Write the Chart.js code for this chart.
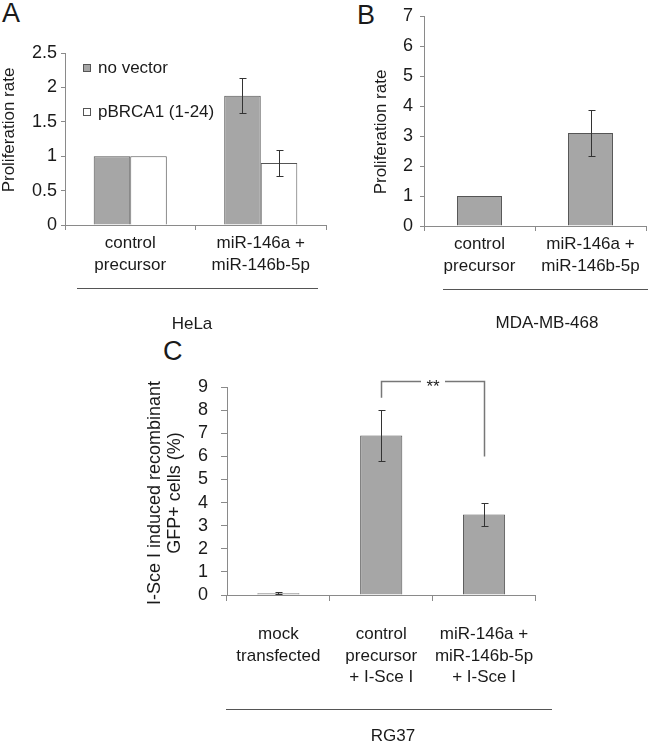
<!DOCTYPE html>
<html>
<head>
<meta charset="utf-8">
<script src="https://cdn.jsdelivr.net/npm/chart.js@4.4.1/dist/chart.umd.min.js"></script>
<style>
	body { margin: 0; background: #fff; width: 649px; height: 741px; position: relative; overflow: hidden;
		font-family: "Liberation Sans", Arial, sans-serif; color: #1a1a1a; }
	.box { position: absolute; }
	.letter { position: absolute; font-size: 27px; line-height: 1; }
	.grp { position: absolute; font-size: 17px; line-height: 1; transform: translate(-50%, -50%); white-space: nowrap; }
	.rule { position: absolute; height: 0; border-top: 1px solid #555; }
</style>
</head>
<body>
<div class="letter" style="left:2px;top:0px">A</div>
<div class="letter" style="left:357px;top:2px">B</div>
<div class="letter" style="left:163px;top:338px">C</div>

<div class="box" style="left:0;top:0;width:330px;height:300px"><canvas id="chart-a"></canvas></div>
<div class="box" style="left:330px;top:0;width:319px;height:300px"><canvas id="chart-b"></canvas></div>
<div class="box" style="left:140px;top:330px;width:420px;height:380px"><canvas id="chart-c"></canvas></div>

<div class="rule" style="left:77px;top:288px;width:241px"></div>
<div class="grp" style="left:192px;top:323px">HeLa</div>
<div class="rule" style="left:443px;top:289px;width:205px"></div>
<div class="grp" style="left:547px;top:322px">MDA-MB-468</div>
<div class="rule" style="left:226px;top:709px;width:326px"></div>
<div class="grp" style="left:393px;top:735px">RG37</div>

<script>
(function () {
	'use strict';

	// Panel A – HeLa
	var labelsAB        = [['control', 'precursor'], ['miR-146a +', 'miR-146b-5p']];
	var helaNoVector    = [1, 1.88];
	var helaNoVectorErr = [0, 0.25];
	var helaPbrca       = [1, 0.9];
	var helaPbrcaErr    = [0, 0.19];

	// Panel B – MDA-MB-468
	var mdaValues = [1, 3.1];
	var mdaErr    = [0, 0.76];

	// Panel C – RG37
	var rgLabels  = [['mock', 'transfected'], ['control', 'precursor', '+ I-Sce I'], ['miR-146a +', 'miR-146b-5p', '+ I-Sce I']];
	var rgValues  = [0.08, 6.9, 3.48];
	var rgErr     = [0.03, 1.12, 0.5];
	var rgBracket = [8.53, 9.28, 5.99]; // left end, top, right end
	var rgSig     = '**';

	var FONT   = '"Liberation Sans", Arial, sans-serif';
	var INK    = '#1a1a1a';
	var GREY   = '#a6a6a6';
	var EDGE   = '#555555';
	var AXIS   = '#8a8a8a';

	Chart.defaults.font.family = FONT;
	Chart.defaults.font.size = 17;
	Chart.defaults.color = INK;

	var errorBars = {
		id: 'errorBars',
		afterDatasetsDraw: function (chart) {
			var ctx = chart.ctx, y = chart.scales.y;
			chart.data.datasets.forEach(function (ds, di) {
				if (!ds.errors) return;
				chart.getDatasetMeta(di).data.forEach(function (bar, i) {
					var e = ds.errors[i];
					if (!e) return;
					var x   = Math.round(bar.x) + 0.5;
					var top = Math.round(y.getPixelForValue(ds.data[i] + e)) + 0.5;
					var bot = Math.round(y.getPixelForValue(ds.data[i] - e)) + 0.5;
					ctx.save();
					ctx.strokeStyle = '#333';
					ctx.lineWidth = 1;
					ctx.beginPath();
					ctx.moveTo(x, top); ctx.lineTo(x, bot);
					ctx.moveTo(x - 3, top); ctx.lineTo(x + 4, top);
					ctx.moveTo(x - 3, bot); ctx.lineTo(x + 4, bot);
					ctx.stroke();
					ctx.restore();
				});
			});
		}
	};

	function yTitle(lines, x, y, lh, size) {
		return {
			id: 'yTitle',
			afterDraw: function (chart) {
				var ctx = chart.ctx;
				ctx.save();
				ctx.translate(x, y);
				ctx.rotate(-Math.PI / 2);
				ctx.font = size + 'px ' + FONT;
				ctx.fillStyle = INK;
				ctx.textAlign = 'center';
				ctx.textBaseline = 'middle';
				lines.forEach(function (t, i) { ctx.fillText(t, 0, i * lh); });
				ctx.restore();
			}
		};
	}

	// legend inside the plot of panel A
	var innerLegend = {
		id: 'innerLegend',
		afterDraw: function (chart) {
			var ctx = chart.ctx;
			var x = 83, y0 = 68, gap = 44;
			chart.data.datasets.forEach(function (ds, i) {
				var y = y0 + i * gap;
				ctx.save();
				ctx.fillStyle = ds.backgroundColor;
				ctx.strokeStyle = EDGE;
				ctx.lineWidth = 1;
				ctx.fillRect(x + 0.5, y - 3.5, 7, 7);
				ctx.strokeRect(x + 0.5, y - 3.5, 7, 7);
				ctx.fillStyle = INK;
				ctx.font = '17px ' + FONT;
				ctx.textBaseline = 'middle';
				ctx.fillText(ds.label, x + 15, y);
				ctx.restore();
			});
		}
	};

	var bracket = {
		id: 'bracket',
		afterDraw: function (chart) {
			var ctx = chart.ctx, xs = chart.scales.x, ys = chart.scales.y;
			var xl = Math.round(xs.getPixelForValue(1)) + 0.5;
			var xr = Math.round(xs.getPixelForValue(2)) + 0.5;
			var yl = ys.getPixelForValue(rgBracket[0]);
			var yt = Math.round(ys.getPixelForValue(rgBracket[1])) + 0.5;
			var yr = ys.getPixelForValue(rgBracket[2]);
			var xm = (xl + xr) / 2;
			ctx.save();
			ctx.strokeStyle = '#777';
			ctx.lineWidth = 1.5;
			ctx.beginPath();
			ctx.moveTo(xl, yl); ctx.lineTo(xl, yt); ctx.lineTo(xm - 12, yt);
			ctx.moveTo(xm + 12, yt); ctx.lineTo(xr, yt); ctx.lineTo(xr, yr);
			ctx.stroke();
			ctx.fillStyle = INK;
			ctx.font = '17px ' + FONT;
			ctx.textAlign = 'center';
			ctx.textBaseline = 'alphabetic';
			ctx.fillText(rgSig, xm, yt + 10);
			ctx.restore();
		}
	};

	function yAxis(max, step, width, tickLen, pad) {
		return {
			min: 0,
			max: max,
			ticks: {
				stepSize: step, padding: pad, color: INK, autoSkip: false,
				font: { size: 18, lineHeight: 1 },
				callback: function (v) { return String(v); }
			},
			grid: { drawOnChartArea: false, drawTicks: true, tickLength: tickLen, color: AXIS },
			border: { color: AXIS },
			afterFit: function (s) { s.width = width; }
		};
	}

	function xAxis(height, pad, tickLen) {
		return {
			ticks: { padding: pad, color: INK, maxRotation: 0, autoSkip: false, font: { size: 17, lineHeight: 1.26 } },
			grid: { drawOnChartArea: false, drawTicks: true, tickLength: tickLen, color: AXIS, offset: true },
			border: { color: AXIS },
			afterFit: function (s) { s.height = height; }
		};
	}

	function baseOptions(padding, x, y) {
		return {
			responsive: true,
			maintainAspectRatio: false,
			animation: false,
			events: [],
			layout: { padding: padding },
			plugins: { legend: { display: false }, tooltip: { enabled: false } },
			scales: { x: x, y: y }
		};
	}

	new Chart(document.getElementById('chart-a'), {
		type: 'bar',
		data: {
			labels: labelsAB,
			datasets: [
				{ label: 'no vector', data: helaNoVector, errors: helaNoVectorErr,
					backgroundColor: GREY, borderColor: EDGE, borderWidth: 1,
					categoryPercentage: 0.56, barPercentage: 1 },
				{ label: 'pBRCA1 (1-24)', data: helaPbrca, errors: helaPbrcaErr,
					backgroundColor: '#ffffff', borderColor: EDGE, borderWidth: 1,
					categoryPercentage: 0.56, barPercentage: 1 }
			]
		},
		options: baseOptions({ top: 53, right: 4, left: 0, bottom: 0 },
			xAxis(75, 3, 5), yAxis(2.5, 0.5, 65, 4, 4)),
		plugins: [errorBars, innerLegend, yTitle(['Proliferation rate'], 9, 130, 20, 17)]
	});

	new Chart(document.getElementById('chart-b'), {
		type: 'bar',
		data: {
			labels: labelsAB,
			datasets: [
				{ label: 'MDA-MB-468', data: mdaValues, errors: mdaErr,
					backgroundColor: GREY, borderColor: EDGE, borderWidth: 1,
					categoryPercentage: 0.405, barPercentage: 1 }
			]
		},
		options: baseOptions({ top: 14, right: 3, left: 42, bottom: 0 },
			xAxis(74, 3, 5), yAxis(7, 1, 52, 4, 7)),
		plugins: [errorBars, yTitle(['Proliferation rate'], 51, 132, 20, 17)]
	});

	new Chart(document.getElementById('chart-c'), {
		type: 'bar',
		data: {
			labels: rgLabels,
			datasets: [
				{ label: 'RG37', data: rgValues, errors: rgErr,
					backgroundColor: GREY, borderColor: EDGE, borderWidth: 1,
					categoryPercentage: 0.41, barPercentage: 1 }
			]
		},
		options: baseOptions({ top: 57, right: 23, left: 5, bottom: 0 },
			xAxis(115, 23, 6), yAxis(9, 1, 82, 6, 13)),
		plugins: [errorBars, bracket, yTitle(['I-Sce I induced recombinant', 'GFP+ cells (%)'], 15, 163, 20, 18)]
	});

}());
</script>
</body>
</html>
